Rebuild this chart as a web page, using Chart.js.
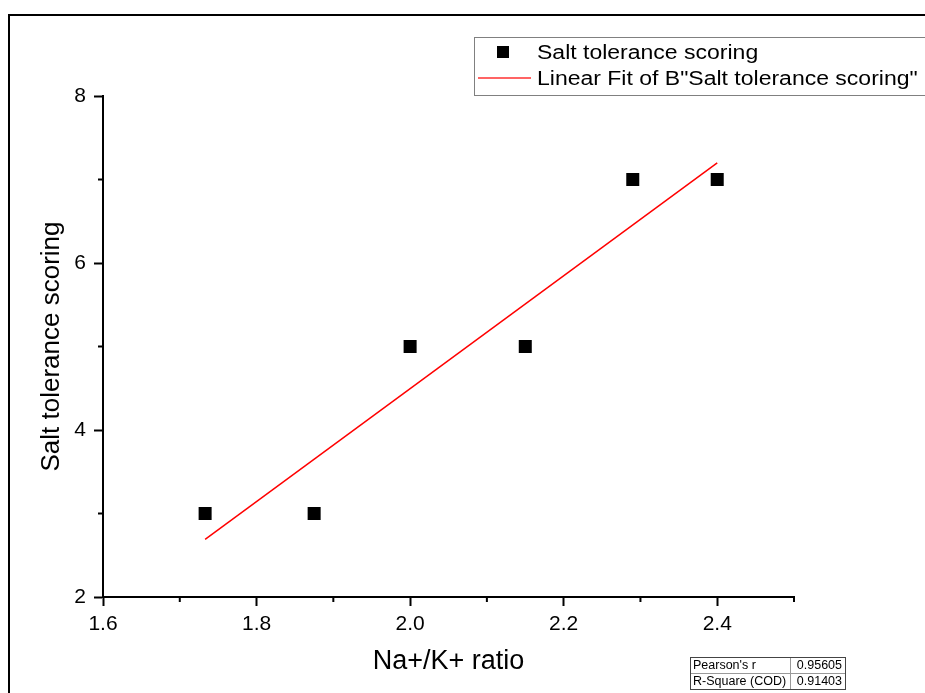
<!DOCTYPE html>
<html>
<head>
<meta charset="utf-8">
<script src="https://cdn.jsdelivr.net/npm/chart.js@4/dist/chart.umd.min.js"></script>
<style>
  body { margin: 0; background: #fff; }
  canvas { display: block; }
</style>
</head>
<body>
<canvas id="chart" width="925" height="693"></canvas>
<script>
// data
const naKRatio = [1.733, 1.875, 2.0, 2.15, 2.29, 2.4];
const saltScore = [3, 3, 5, 5, 7, 7];
const fitX = [1.733, 2.4];
const fitY = [2.69, 7.2];
const xTicks = [1.6, 1.8, 2.0, 2.2, 2.4];
const xMinorTicks = [1.7, 1.9, 2.1, 2.3, 2.5];
const yTicks = [2, 4, 6, 8];
const yMinorTicks = [3, 5, 7];
const statRows = [["Pearson's r", '0.95605'], ['R-Square (COD)', '0.91403']];

const FONT = 'Arial, "Liberation Sans", sans-serif';

// frame, minor ticks, legend and stats table, Origin style
const extras = {
  id: 'extras',
  afterDraw(chart) {
    const ctx = chart.ctx;
    const xs = chart.scales.x, ys = chart.scales.y;
    const area = chart.chartArea;
    ctx.save();

    // outer frame
    ctx.strokeStyle = '#000';
    ctx.lineWidth = 2;
    ctx.strokeRect(9, 15, 940, 700);

    // minor ticks
    ctx.beginPath();
    xMinorTicks.forEach(v => {
      const px = xs.getPixelForValue(v);
      ctx.moveTo(px, area.bottom);
      ctx.lineTo(px, area.bottom + 5);
    });
    yMinorTicks.forEach(v => {
      const py = ys.getPixelForValue(v);
      ctx.moveTo(area.left, py);
      ctx.lineTo(area.left - 5, py);
    });
    ctx.stroke();

    // legend
    ctx.strokeStyle = '#808080';
    ctx.lineWidth = 1;
    ctx.strokeRect(474.5, 37.5, 470, 58);
    ctx.fillStyle = '#000';
    ctx.fillRect(497, 46, 12, 12);
    ctx.strokeStyle = '#ff3030';
    ctx.lineWidth = 1.5;
    ctx.beginPath();
    ctx.moveTo(478, 78);
    ctx.lineTo(531, 78);
    ctx.stroke();
    ctx.font = '20px ' + FONT;
    ctx.textBaseline = 'middle';
    ctx.textAlign = 'left';
    // legend text in the source is a little wider than plain Arial
    ctx.save();
    ctx.translate(537, 0);
    ctx.scale(1.15, 1);
    ctx.fillText(chart.data.datasets[0].label, 0, 53);
    ctx.fillText(chart.data.datasets[1].label, 0, 79);
    ctx.restore();

    // stats table
    ctx.strokeStyle = '#999';
    ctx.lineWidth = 1;
    ctx.beginPath();
    ctx.moveTo(690, 673.5); ctx.lineTo(845, 673.5);
    ctx.moveTo(790.5, 657); ctx.lineTo(790.5, 689);
    ctx.stroke();
    ctx.strokeStyle = '#444';
    ctx.strokeRect(690.5, 657.5, 155, 32);
    ctx.font = '12.5px ' + FONT;
    ctx.fillStyle = '#000';
    statRows.forEach((row, i) => {
      const y = 665.5 + i * 16;
      ctx.textAlign = 'left';
      ctx.fillText(row[0], 693, y);
      ctx.textAlign = 'right';
      ctx.fillText(row[1], 842, y);
    });

    ctx.restore();
  }
};

const axisCommon = {
  grid: { drawOnChartArea: false, tickLength: 9, tickColor: '#000', tickWidth: 2 },
  border: { display: true, color: '#000', width: 2 },
  ticks: { color: '#000', font: { family: FONT, size: 21 } }
};

new Chart(document.getElementById('chart'), {
  type: 'scatter',
  data: {
    datasets: [
      {
        label: 'Salt tolerance scoring',
        data: naKRatio.map((x, i) => ({ x: x, y: saltScore[i] })),
        pointStyle: 'rect',
        pointRadius: 9.2,
        pointHoverRadius: 9.2,
        backgroundColor: '#000',
        borderWidth: 0
      },
      {
        label: 'Linear Fit of B"Salt tolerance scoring"',
        data: fitX.map((x, i) => ({ x: x, y: fitY[i] })),
        showLine: true,
        pointRadius: 0,
        borderColor: '#ff0000',
        borderWidth: 1.5,
        fill: false
      }
    ]
  },
  options: {
    responsive: false,
    animation: false,
    events: [],
    layout: { padding: { top: 96, right: 131, left: 0, bottom: 0 } },
    plugins: {
      legend: { display: false },
      tooltip: { enabled: false }
    },
    scales: {
      x: {
        ...axisCommon,
        min: 1.6,
        max: 2.5,
        afterBuildTicks: scale => { scale.ticks = xTicks.map(v => ({ value: v })); },
        afterFit: scale => { scale.height = 96; },
        ticks: { ...axisCommon.ticks, padding: 6, callback: v => v.toFixed(1) },
        title: {
          display: true,
          text: 'Na+/K+ ratio',
          color: '#000',
          font: { family: FONT, size: 27 },
          padding: { top: 0, bottom: 15 }
        }
      },
      y: {
        ...axisCommon,
        min: 2,
        max: 8,
        afterBuildTicks: scale => { scale.ticks = yTicks.map(v => ({ value: v })); },
        afterFit: scale => { scale.width = 103; },
        ticks: { ...axisCommon.ticks, padding: 8, callback: v => String(v) },
        title: {
          display: true,
          text: 'Salt tolerance scoring',
          color: '#000',
          font: { family: FONT, size: 26 },
          padding: { top: 36, bottom: 0 }
        }
      }
    }
  },
  plugins: [extras]
});
</script>
</body>
</html>
